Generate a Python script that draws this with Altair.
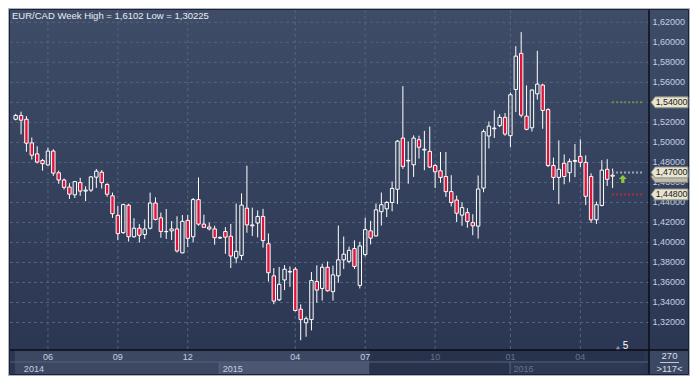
import altair as alt
import pandas as pd

# ---------------- data ----------------
opens = [1.5231, 1.5269, 1.5231, 1.4995, 1.4885, 1.4819, 1.4775, 1.4913, 1.4696, 1.4624,
         1.4554, 1.4476, 1.4598, 1.4513, 1.4523, 1.4652, 1.4702, 1.4579, 1.4466, 1.4271,
         1.4098, 1.4372, 1.4057, 1.4142, 1.4079, 1.4142, 1.4394, 1.4246, 1.4110, 1.4116,
         1.4135, 1.3896, 1.4220, 1.4057, 1.4428, 1.4183, 1.4154, 1.4135, 1.4050, 1.4109,
         1.4062, 1.3845, 1.3870, 1.4342, 1.4175, 1.4194, 1.4260, 1.3987, 1.3666, 1.3427,
         1.3625, 1.3704, 1.3732, 1.3333, 1.3197, 1.3229, 1.3610, 1.3540, 1.3752, 1.3508,
         1.3666, 1.3826, 1.3811, 1.3939, 1.3571, 1.3880, 1.4116, 1.4065, 1.4307, 1.4336,
         1.4399, 1.4531, 1.5043, 1.4820, 1.4776, 1.5027, 1.4932, 1.4910, 1.4769, 1.4716,
         1.4659, 1.4508, 1.4424, 1.4273, 1.4298, 1.4198, 1.4163, 1.4543, 1.5064, 1.5143,
         1.5168, 1.5250, 1.5067, 1.5529, 1.5890, 1.5262, 1.5146, 1.5485, 1.5573, 1.5328,
         1.4769, 1.4650, 1.4791, 1.4697, 1.4819, 1.4860, 1.4800, 1.4659, 1.4226, 1.4370,
         1.4731, 1.4672]
closes = [1.5269, 1.5222, 1.4992, 1.4872, 1.4803, 1.4787, 1.4913, 1.4693, 1.4624, 1.4551,
          1.4482, 1.4608, 1.4513, 1.4523, 1.4655, 1.4712, 1.4598, 1.4482, 1.4287, 1.4088,
          1.4378, 1.4057, 1.4142, 1.4072, 1.4135, 1.4394, 1.4230, 1.4110, 1.4107, 1.4135,
          1.3915, 1.4211, 1.4041, 1.4428, 1.4183, 1.4151, 1.4135, 1.4047, 1.4044, 1.4053,
          1.3864, 1.3911, 1.4373, 1.4175, 1.4166, 1.4260, 1.4018, 1.3697, 1.3414, 1.3581,
          1.3732, 1.3710, 1.3320, 1.3229, 1.3238, 1.3619, 1.3524, 1.3752, 1.3517, 1.3676,
          1.3826, 1.3883, 1.3921, 1.3760, 1.3965, 1.4128, 1.4043, 1.4326, 1.4377, 1.4399,
          1.4540, 1.5012, 1.4760, 1.4814, 1.5043, 1.4951, 1.4923, 1.4753, 1.4706, 1.4650,
          1.4508, 1.4399, 1.4292, 1.4348, 1.4210, 1.4166, 1.4534, 1.5108, 1.5162, 1.5136,
          1.5250, 1.5083, 1.5476, 1.5862, 1.5272, 1.5130, 1.5523, 1.5582, 1.5319, 1.4769,
          1.4650, 1.4731, 1.4659, 1.4810, 1.4810, 1.4800, 1.4461, 1.4226, 1.4377, 1.4722,
          1.4631, 1.4662]
highs = [1.5285, 1.5307, 1.5263, 1.5049, 1.4961, 1.4835, 1.4948, 1.4932, 1.4718, 1.4639,
         1.4592, 1.4614, 1.4646, 1.4561, 1.4664, 1.4734, 1.4724, 1.4592, 1.4498, 1.4365,
         1.4387, 1.4387, 1.4242, 1.4183, 1.4230, 1.4498, 1.4450, 1.4299, 1.4334, 1.4214,
         1.4261, 1.4274, 1.4274, 1.4444, 1.4649, 1.4277, 1.4198, 1.4167, 1.4060, 1.4153,
         1.4185, 1.4389, 1.4490, 1.4767, 1.4348, 1.4320, 1.4336, 1.4090, 1.3744, 1.3754,
         1.3773, 1.3760, 1.3754, 1.3381, 1.3260, 1.3705, 1.3771, 1.3787, 1.3810, 1.3768,
         1.4169, 1.4059, 1.3958, 1.4021, 1.4006, 1.4248, 1.4216, 1.4389, 1.4499, 1.4414,
         1.4609, 1.5024, 1.5562, 1.5009, 1.5070, 1.5067, 1.5115, 1.5158, 1.4785, 1.4904,
         1.4904, 1.4672, 1.4468, 1.4402, 1.4342, 1.4282, 1.4669, 1.5130, 1.5209, 1.5319,
         1.5281, 1.5293, 1.5498, 1.5962, 1.6102, 1.5570, 1.5532, 1.5915, 1.5586, 1.5341,
         1.4848, 1.5020, 1.4879, 1.4838, 1.4983, 1.5030, 1.4870, 1.4691, 1.4408, 1.4822,
         1.4832, 1.4738]
lows = [1.5220, 1.5080, 1.4907, 1.4828, 1.4790, 1.4718, 1.4765, 1.4665, 1.4586, 1.4529,
        1.4435, 1.4444, 1.4466, 1.4413, 1.4504, 1.4545, 1.4538, 1.4457, 1.4246, 1.4025,
        1.4085, 1.4009, 1.4047, 1.4000, 1.4034, 1.4129, 1.4220, 1.4047, 1.4034, 1.4025,
        1.3899, 1.3890, 1.3953, 1.4000, 1.4167, 1.4145, 1.4120, 1.3978, 1.4035, 1.3886,
        1.3744, 1.3792, 1.3823, 1.4097, 1.4065, 1.4050, 1.3949, 1.3609, 1.3383, 1.3414,
        1.3524, 1.3556, 1.3310, 1.3022, 1.3057, 1.3121, 1.3397, 1.3419, 1.3508, 1.3419,
        1.3597, 1.3735, 1.3792, 1.3735, 1.3540, 1.3861, 1.3980, 1.4059, 1.4169, 1.4254,
        1.4311, 1.4383, 1.4735, 1.4587, 1.4655, 1.4838, 1.4722, 1.4744, 1.4543, 1.4596,
        1.4455, 1.4361, 1.4204, 1.4166, 1.4147, 1.4072, 1.4038, 1.4502, 1.4939, 1.5045,
        1.5152, 1.5067, 1.4951, 1.5303, 1.5250, 1.5121, 1.5108, 1.5428, 1.5136, 1.4753,
        1.4524, 1.4383, 1.4581, 1.4606, 1.4653, 1.4753, 1.4373, 1.4195, 1.4185, 1.4361,
        1.4565, 1.4543]

y_ticks = [1.32, 1.34, 1.36, 1.38, 1.40, 1.42, 1.44, 1.46, 1.48, 1.50,
           1.52, 1.54, 1.56, 1.58, 1.60, 1.62]
month_ticks = [6, 19, 32, 52, 65, 78, 92, 105]
month_labels = ["06", "09", "12", "04", "07", "10", "01", "04"]
year_starts = [-0.125, 37.85, 91.94]
year_labels = ["2014", "2015", "2016"]
nav_start = 65.8          # start of the darker (navigator) part of the time band
levels = [1.54, 1.47, 1.448]
level_labels = ["1,54000", "1,47000", "1,44800"]
level_start = 110.9
shadow_level = [1.4655]
arrow_x = [112.9]
arrow_y = [1.4634]
title = "EUR/CAD Week High = 1,6102 Low = 1,30225"

# ---------------- layout / styles ----------------
W, H = 639, 340
X0, X1 = -0.125, 116.84
xs = alt.Scale(domain=[X0, X1], nice=False, zero=False)
ys = alt.Scale(domain=[1.2925, 1.6323], nice=False, zero=False)
FONT = "Liberation Sans"
RED = "#e0133a"
LIGHT = "#c6cfe0"
DIM = "#66728c"
GRID = "#56637e"

df = pd.DataFrame({"i": list(range(len(opens))), "o": opens, "h": highs,
                   "l": lows, "c": closes})
df["top"] = df[["o", "c"]].max(axis=1)
df["bot"] = df[["o", "c"]].min(axis=1)
df["down"] = df["c"] < df["o"]

one = pd.DataFrame({"k": [0]})
X = lambda f: alt.X(f, scale=xs, axis=None)
Y = lambda f: alt.Y(f, scale=ys, axis=None)

layers = []

grad = alt.LinearGradient(gradient="linear",
                          stops=[alt.GradientStop(color="#3f4c67", offset=0),
                                 alt.GradientStop(color="#2a3651", offset=1)],
                          x1=0, x2=0, y1=0, y2=1)
layers.append(alt.Chart(one).mark_rect(color=grad, stroke="#1c2231", strokeWidth=1).encode(
    x=alt.value(-0.5), x2=alt.value(678.5), y=alt.value(-0.5), y2=alt.value(364.5)))

# time band
R1, R2, R3 = 340, 352, 364
band = pd.DataFrame({"a": [X0, nav_start, X0, year_starts[1], nav_start, year_starts[2]],
                     "b": [nav_start, X1, year_starts[1], nav_start, year_starts[2], X1],
                     "row": [0, 0, 1, 1, 1, 1], "k": [0, 1, 2, 3, 4, 5]})
band_cols = ["#3c4862", "#28334b", "#3c4862", "#4b5772", "#28334b", "#2d3852"]
for k, col in enumerate(band_cols):
    r = band.iloc[k]
    layers.append(alt.Chart(band[band.k == k]).mark_rect(color=col).encode(
        x=X("a:Q"), x2="b:Q",
        y=alt.value(R1 if r.row == 0 else R2), y2=alt.value(R2 if r.row == 0 else R3)))
layers.append(alt.Chart(one).mark_rect(color="#3c4862").encode(
    x=alt.value(639), x2=alt.value(678), y=alt.value(R1), y2=alt.value(R3)))
layers.append(alt.Chart(one).mark_rule(color="#55617a", strokeWidth=1).encode(
    x=alt.value(0), x2=alt.value(639), y=alt.value(R2)))
ydiv = pd.DataFrame({"t": year_starts[1:]})
layers.append(alt.Chart(ydiv).mark_rule(color="#5a6680", strokeWidth=1).encode(
    x=X("t:Q"), y=alt.value(R2), y2=alt.value(R3)))

# grid
gy = pd.DataFrame({"v": y_ticks})
layers.append(alt.Chart(gy).mark_rule(color=GRID, strokeWidth=1, strokeDash=[3, 3]).encode(
    y=Y("v:Q"), x=alt.value(0), x2=alt.value(W)))
gx = pd.DataFrame({"t": month_ticks})
layers.append(alt.Chart(gx).mark_rule(color=GRID, strokeWidth=1, strokeDash=[3, 3]).encode(
    x=X("t:Q"), y=alt.value(0), y2=alt.value(H)))

# separators
layers.append(alt.Chart(one).mark_rule(color="#0b0e16", strokeWidth=1.5).encode(
    x=alt.value(0), x2=alt.value(678), y=alt.value(H)))
layers.append(alt.Chart(one).mark_rule(color="#0b0e16", strokeWidth=1.5).encode(
    x=alt.value(W), y=alt.value(0), y2=alt.value(R3)))

# candles
layers.append(alt.Chart(df).mark_rule(color="white", strokeWidth=1, clip=True).encode(
    x=X("i:Q"), y=Y("h:Q"), y2="top:Q"))
layers.append(alt.Chart(df).mark_rule(color="white", strokeWidth=1, clip=True).encode(
    x=X("i:Q"), y=Y("bot:Q"), y2="l:Q"))
layers.append(alt.Chart(df).transform_filter("datum.down").mark_bar(
    width=3.4, color=RED, stroke="white", strokeWidth=1, clip=True).encode(
    x=X("i:Q"), y=Y("o:Q"), y2="c:Q"))
layers.append(alt.Chart(df).transform_filter("!datum.down").mark_bar(
    width=3.4, color="white", fillOpacity=0, stroke="white", strokeWidth=1, clip=True).encode(
    x=X("i:Q"), y=Y("o:Q"), y2="c:Q"))

# level lines
lv = pd.DataFrame({"v": levels, "s": [level_start] * 3, "e": [X1] * 3, "lab": level_labels,
                   "k": [0, 1, 2]})
for k, col in enumerate(["#6c8b4b", "#9ca5b5", "#a8303e"]):
    layers.append(alt.Chart(lv[lv.k == k]).mark_rule(color=col, strokeWidth=2, strokeDash=[2, 2]).encode(
        x=X("s:Q"), x2="e:Q", y=Y("v:Q")))

# y labels (the 1.54 one sits fully under its identical level box, as in the reference)
ylab = pd.DataFrame({"v": y_ticks})
layers.append(alt.Chart(ylab).transform_filter("abs(datum.v - 1.54) > 0.001").transform_calculate(
    lab="replace(format(datum.v, '.5f'), '.', ',')").mark_text(
    align="left", baseline="middle", font=FONT, fontSize=9, color=LIGHT).encode(
    x=alt.value(642.5), y=Y("v:Q"), text="lab:N"))

# level boxes
box_path = "M-3.35,0 L-2.6,-1 L3.35,-1 L3.35,1 L-2.6,1 Z"
sh = pd.DataFrame({"v": shadow_level})
layers.append(alt.Chart(sh).mark_point(shape=box_path, size=121, filled=True, color="#bdbcae",
                                       stroke="#7d7d70", strokeWidth=1, opacity=1).encode(
    x=alt.value(659.5), y=Y("v:Q")))
layers.append(alt.Chart(lv).mark_point(shape=box_path, size=121, filled=True, color="#e7e4d0",
                                       stroke="#8a8a78", strokeWidth=1, opacity=1).encode(
    x=alt.value(659.5), y=Y("v:Q")))
layers.append(alt.Chart(lv).mark_text(align="center", baseline="middle", font=FONT, fontSize=8.8,
                                      color="#1b1b1b").encode(
    x=alt.value(661.6), y=Y("v:Q"), text="lab:N"))

# green arrow
arrow_path = "M0,-1 L1,0 L0.4,0 L0.4,1 L-0.4,1 L-0.4,0 L-1,0 Z"
ar = pd.DataFrame({"x": arrow_x, "y": arrow_y})
layers.append(alt.Chart(ar).mark_point(shape=arrow_path, size=64, filled=True, color="#8cc63e",
                                       opacity=1).encode(x=X("x:Q"), y=Y("y:Q")))

# small "5" marker
layers.append(alt.Chart(one).mark_point(shape="triangle-up", size=18, filled=True, color="#8a94a8",
                                        opacity=1).encode(x=alt.value(608), y=alt.value(337.5)))
layers.append(alt.Chart(one).mark_text(text="5", align="center", baseline="middle", font=FONT,
                                       fontSize=10, color="white").encode(
    x=alt.value(615.5), y=alt.value(336)))

# title
layers.append(alt.Chart(one).mark_text(text=title, align="left", baseline="middle", font=FONT,
                                       fontSize=9.5, color="#e8ecf4").encode(
    x=alt.value(2), y=alt.value(6)))

# month labels
md = pd.DataFrame({"t": month_ticks, "lab": month_labels})
layers.append(alt.Chart(md).mark_text(align="center", baseline="middle", font=FONT, fontSize=9).encode(
    x=X("t:Q"), y=alt.value(346.5), text="lab:N",
    color=alt.condition(f"datum.t > {nav_start + 5}", alt.value(DIM), alt.value(LIGHT))))
yd = pd.DataFrame({"t": year_starts, "lab": year_labels})
layers.append(alt.Chart(yd).transform_calculate(p="datum.t + 0.65 + (datum.t < 0 ? 1.0 : 0)").mark_text(
    align="left", baseline="middle", font=FONT, fontSize=9).encode(
    x=X("p:Q"), y=alt.value(358.5), text="lab:N",
    color=alt.condition(f"datum.t > {nav_start}", alt.value(DIM), alt.value(LIGHT))))

# bottom-right box
layers.append(alt.Chart(one).mark_text(text="270", align="center", baseline="middle", font=FONT,
                                       fontSize=9.5, color="#d6dce8").encode(
    x=alt.value(659.5), y=alt.value(346)))
layers.append(alt.Chart(one).mark_rule(color="#c0c8d8", strokeWidth=1).encode(
    x=alt.value(650), x2=alt.value(669), y=alt.value(352.5)))
layers.append(alt.Chart(one).mark_text(text=">117<", align="center", baseline="middle", font=FONT,
                                       fontSize=9.5, color="#d6dce8").encode(
    x=alt.value(659.5), y=alt.value(358.5)))

chart = alt.layer(*layers).properties(
    width=W, height=H,
    padding={"left": 2, "top": 2, "right": 41, "bottom": 26},
    autosize=alt.AutoSizeParams(type="none"),
).configure(background="#a9b3c4").configure_view(strokeWidth=0)

chart.save("out.html", embed_options={"renderer": "svg", "actions": False})
